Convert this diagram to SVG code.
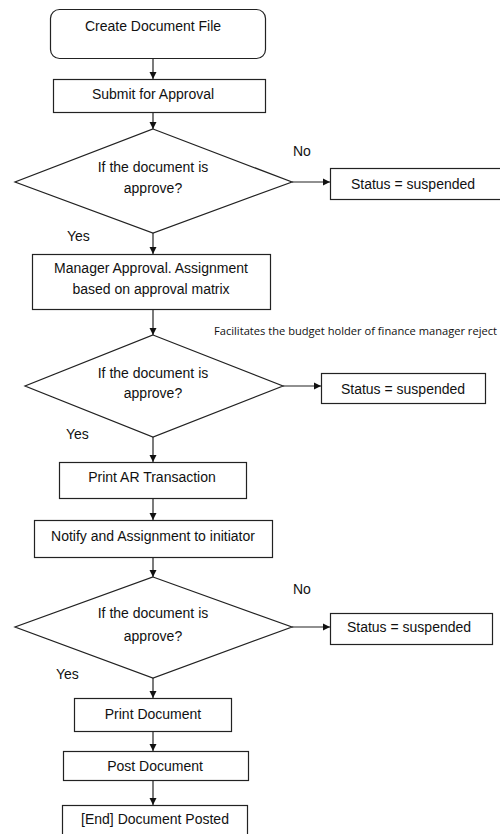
<svg xmlns="http://www.w3.org/2000/svg" width="500" height="834" viewBox="0 0 500 834">
<style>
.s{fill:#fff;stroke:#222;stroke-width:1.2}
.t{font-family:"Liberation Sans",Arial,sans-serif;font-size:14px;fill:#111;text-anchor:middle}
.l{font-family:"Liberation Sans",Arial,sans-serif;font-size:14px;fill:#111}
.c{stroke:#222;stroke-width:1.2;fill:none;marker-end:url(#ah)}
.n{font-family:"Open Sans","DejaVu Sans",sans-serif;font-size:11px;fill:#111}
</style>
<defs>
<marker id="ah" markerWidth="8" markerHeight="8" refX="7" refY="4" orient="auto" markerUnits="userSpaceOnUse">
<path d="M0,0.5 L7,4 L0,7.5 Z" fill="#111"/>
</marker>
</defs>
<rect width="500" height="834" fill="#fff"/>
<g id="connectors">
<line class="c" x1="153" y1="58" x2="153" y2="79"/>
<line class="c" x1="153" y1="112" x2="153" y2="129"/>
<line class="c" x1="292" y1="182" x2="330" y2="182"/>
<line class="c" x1="153" y1="233" x2="153" y2="254"/>
<line class="c" x1="153" y1="309" x2="153" y2="335"/>
<line class="c" x1="283" y1="386" x2="321" y2="386"/>
<line class="c" x1="153" y1="437" x2="153" y2="462"/>
<line class="c" x1="153" y1="499" x2="153" y2="520"/>
<line class="c" x1="153" y1="557" x2="153" y2="577"/>
<line class="c" x1="292" y1="627" x2="330" y2="627"/>
<line class="c" x1="153" y1="678" x2="153" y2="698"/>
<line class="c" x1="153" y1="731" x2="153" y2="751"/>
<line class="c" x1="153" y1="780" x2="153" y2="805"/>
<text class="l" x="293" y="156">No</text>
<text class="l" x="67" y="241">Yes</text>
<text class="n" x="214" y="335" textLength="283" lengthAdjust="spacingAndGlyphs">Facilitates the budget holder of finance manager reject</text>
<text class="l" x="66" y="439">Yes</text>
<text class="l" x="293" y="594">No</text>
<text class="l" x="56" y="679">Yes</text>
</g>
<g id="create">
<rect class="s" x="50.5" y="9.5" width="215" height="49" rx="9"/>
<text class="t" x="153" y="31">Create Document File</text>
</g>
<g id="submit">
<rect class="s" x="53.5" y="79.5" width="212" height="33"/>
<text class="t" x="153" y="99">Submit for Approval</text>
</g>
<g id="decision1">
<polygon class="s" points="153,129 292,182 153,233 15,182"/>
<text class="t" x="153" y="172">If the document is</text>
<text class="t" x="153" y="193">approve?</text>
</g>
<g id="status1">
<rect class="s" x="330.5" y="168.5" width="172" height="31"/>
<text class="t" x="413" y="189">Status = suspended</text>
</g>
<g id="manager">
<rect class="s" x="32.5" y="254.5" width="238" height="55"/>
<text class="t" x="151" y="273">Manager Approval. Assignment</text>
<text class="t" x="151" y="294">based on approval matrix</text>
</g>
<g id="decision2">
<polygon class="s" points="153,335 283,386 153,437 25,386"/>
<text class="t" x="153" y="378">If the document is</text>
<text class="t" x="153" y="398">approve?</text>
</g>
<g id="status2">
<rect class="s" x="321.5" y="373.5" width="164" height="30"/>
<text class="t" x="403" y="394">Status = suspended</text>
</g>
<g id="printar">
<rect class="s" x="59.5" y="462.5" width="187" height="36"/>
<text class="t" x="152" y="482">Print AR Transaction</text>
</g>
<g id="notify">
<rect class="s" x="34.5" y="520.5" width="238" height="37"/>
<text class="t" x="153" y="541">Notify and Assignment to initiator</text>
</g>
<g id="decision3">
<polygon class="s" points="153,577 292,627 153,678 15,627"/>
<text class="t" x="153" y="618">If the document is</text>
<text class="t" x="153" y="641">approve?</text>
</g>
<g id="status3">
<rect class="s" x="330.5" y="613.5" width="162" height="31"/>
<text class="t" x="409" y="632">Status = suspended</text>
</g>
<g id="printdoc">
<rect class="s" x="74.5" y="698.5" width="157" height="33"/>
<text class="t" x="153" y="719">Print Document</text>
</g>
<g id="post">
<rect class="s" x="63.5" y="751.5" width="185" height="29"/>
<text class="t" x="155" y="771">Post Document</text>
</g>
<g id="end">
<rect class="s" x="62.5" y="805.5" width="185" height="32"/>
<text class="t" x="155" y="824">[End] Document Posted</text>
</g>
</svg>
